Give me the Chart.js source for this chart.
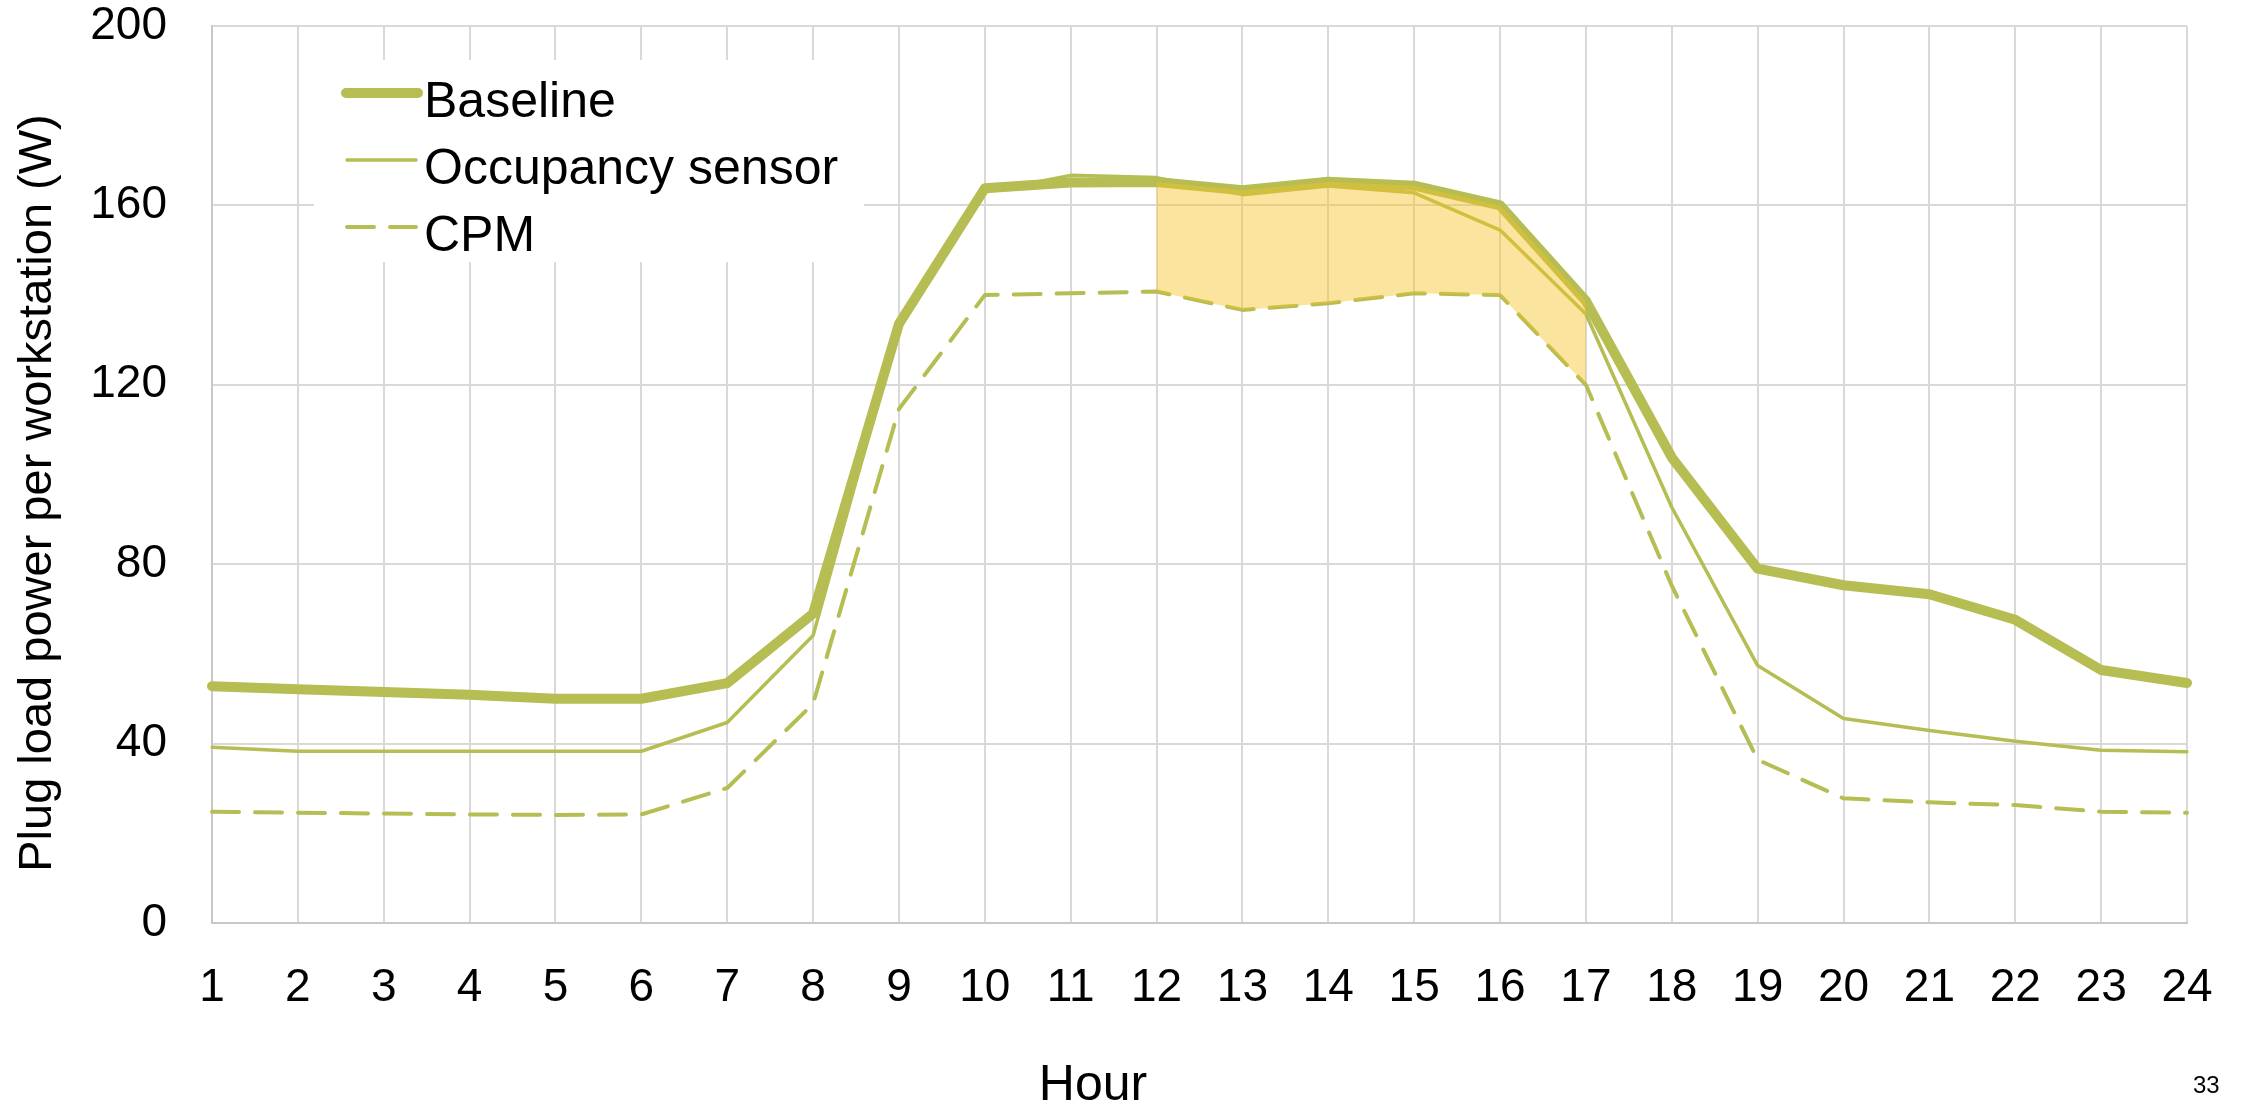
<!DOCTYPE html>
<html>
<head>
<meta charset="utf-8">
<title>Plug load power per workstation</title>
<script src="https://cdn.jsdelivr.net/npm/chart.js@4.4.1/dist/chart.umd.min.js"></script>
<style>
  html, body { margin: 0; padding: 0; background: #fff; }
  #wrap { width: 2241px; height: 1106px; }
</style>
</head>
<body>
<div id="wrap"><canvas id="grafico" width="2241" height="1106"></canvas></div>
<script>
// hourly plug load per workstation (W)
const horas = [1, 2, 3, 4, 5, 6, 7, 8, 9, 10, 11, 12, 13, 14, 15, 16, 17, 18, 19, 20, 21, 22, 23, 24];
const baseline = [52.8, 52.1, 51.5, 50.9, 50.0, 50.0, 53.5, 69.0, 133.6, 163.8, 165.1, 165.2, 163.4, 165.3, 164.4, 160.0, 138.7, 103.8, 79.0, 75.3, 73.3, 67.6, 56.4, 53.5];
const ocupacao = [39.2, 38.3, 38.3, 38.3, 38.3, 38.3, 44.7, 64.1, 132.8, 163.0, 166.7, 166.2, 162.4, 164.3, 162.8, 154.5, 135.8, 92.7, 57.4, 45.6, 42.9, 40.5, 38.5, 38.2];
const cpm = [24.8, 24.6, 24.4, 24.2, 24.1, 24.2, 30.1, 48.9, 114.6, 140.0, 140.4, 140.8, 136.7, 138.2, 140.4, 140.0, 120.0, 75.2, 36.4, 27.8, 26.9, 26.3, 24.8, 24.6];
const yTicks = [0, 40, 80, 120, 160, 200];
// shaded savings band between baseline and CPM
const faixaInicio = 12;
const faixaFim = 17;

const verde = '#B5BD53';
const fonte = '"Liberation Sans", Arial, sans-serif';

const naFaixa = (arr) => arr.map((v, i) => (horas[i] >= faixaInicio && horas[i] <= faixaFim) ? v : null);

const legendaItens = [
    { label: 'Baseline', width: 10, dash: [] },
    { label: 'Occupancy sensor', width: 3.5, dash: [] },
    { label: 'CPM', width: 4, dash: [27, 16] }
];

// legend box + axis titles + page number
const extras = {
    id: 'extras',
    afterDatasetsDraw(chart) {
        const ctx = chart.ctx;
        ctx.save();
        ctx.fillStyle = '#fff';
        ctx.fillRect(314, 60, 550, 202);
        legendaItens.forEach((item, i) => {
            const y = 93 + i * 67;
            ctx.strokeStyle = verde;
            ctx.lineWidth = item.width;
            ctx.lineCap = 'round';
            ctx.setLineDash(item.dash);
            ctx.beginPath();
            ctx.moveTo(i === 0 ? 346 : 347, y);
            ctx.lineTo(i === 0 ? 418 : 416, y);
            ctx.stroke();
            ctx.setLineDash([]);
            ctx.fillStyle = '#000';
            ctx.font = '50px ' + fonte;
            ctx.textBaseline = 'alphabetic';
            ctx.textAlign = 'left';
            ctx.fillText(item.label, 424, y + 24);
        });
        ctx.restore();
    },
    afterDraw(chart) {
        const ctx = chart.ctx;
        ctx.save();
        ctx.fillStyle = '#000';
        ctx.textBaseline = 'alphabetic';
        ctx.textAlign = 'center';
        ctx.font = '50px ' + fonte;
        ctx.fillText('Hour', 1093, 1100);

        ctx.save();
        ctx.translate(51, 493);
        ctx.rotate(-Math.PI / 2);
        ctx.font = '47px ' + fonte;
        ctx.fillText('Plug load power per workstation (W)', 0, 0);
        ctx.restore();

        ctx.font = '24px ' + fonte;
        ctx.textAlign = 'left';
        ctx.fillText('33', 2193, 1093);
        ctx.restore();
    }
};

const ctx = document.getElementById('grafico').getContext('2d');

new Chart(ctx, {
    type: 'line',
    data: {
        labels: horas,
        datasets: [
            {
                label: 'Baseline',
                data: baseline,
                borderColor: verde,
                borderWidth: 10,
                order: 3
            },
            {
                label: 'Occupancy sensor',
                data: ocupacao,
                borderColor: verde,
                borderWidth: 3.5,
                order: 2
            },
            {
                label: 'CPM',
                data: cpm,
                borderColor: verde,
                borderWidth: 4,
                borderDash: [27, 16],
                order: 1
            },
            {
                label: 'faixa-topo',
                data: naFaixa(baseline),
                borderWidth: 0,
                borderColor: 'rgba(0,0,0,0)',
                backgroundColor: 'rgba(244, 196, 40, 0.45)',
                fill: 4,
                order: -2
            },
            {
                label: 'faixa-base',
                data: naFaixa(cpm),
                borderWidth: 0,
                borderColor: 'rgba(0,0,0,0)',
                fill: false,
                order: -1
            }
        ]
    },
    options: {
        responsive: false,
        animation: false,
        devicePixelRatio: 1,
        layout: { padding: { top: 26, right: 54, left: 0, bottom: 0 } },
        elements: {
            point: { radius: 0, hoverRadius: 0 },
            line: { tension: 0, borderJoinStyle: 'round', borderCapStyle: 'round' }
        },
        plugins: {
            legend: { display: false },
            tooltip: { enabled: false }
        },
        scales: {
            x: {
                type: 'category',
                offset: false,
                grid: { color: '#D9D9D9', lineWidth: 2, drawTicks: false, offset: false },
                border: { color: '#C8C8C8', width: 2 },
                ticks: {
                    color: '#000',
                    font: { family: fonte, size: 46 },
                    padding: 38,
                    maxRotation: 0,
                    autoSkip: false
                },
                afterFit(scale) {
                    scale.height = 183;
                    scale.paddingLeft = 0;
                    scale.paddingRight = 0;
                }
            },
            y: {
                min: 0,
                max: 200,
                afterBuildTicks(scale) { scale.ticks = yTicks.map(v => ({ value: v })); },
                grid: { color: '#D9D9D9', lineWidth: 2, drawTicks: false },
                border: { color: '#C8C8C8', width: 2 },
                ticks: {
                    color: '#000',
                    font: { family: fonte, size: 46 },
                    padding: 45
                },
                afterFit(scale) {
                    scale.width = 212;
                    scale.paddingTop = 0;
                    scale.paddingBottom = 0;
                }
            }
        }
    },
    plugins: [extras]
});
</script>
</body>
</html>
